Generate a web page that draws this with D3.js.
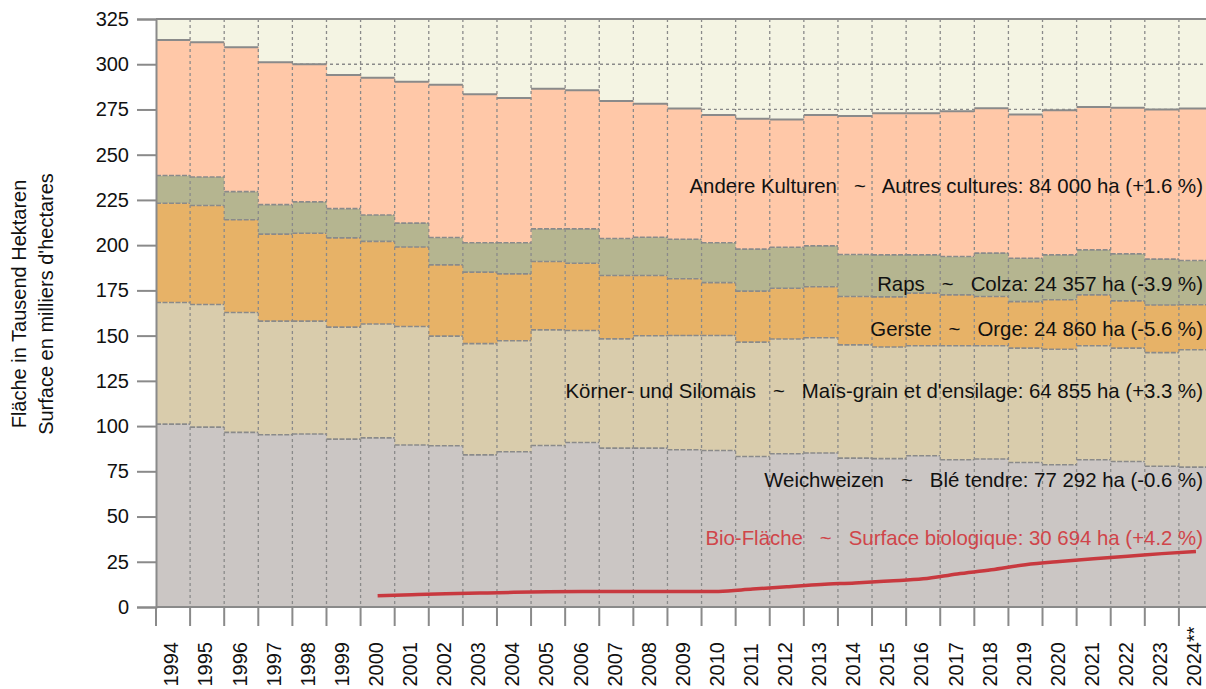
<!DOCTYPE html>
<html><head><meta charset="utf-8">
<script src="https://cdn.jsdelivr.net/npm/d3@7/dist/d3.min.js"></script>
<style>
body{margin:0;background:#fff}
text{font-family:"Liberation Sans",Arial,Helvetica,sans-serif;}
</style>
</head><body>
<svg id="c" width="1206" height="689"></svg>
<script>
const years = [1994,1995,1996,1997,1998,1999,2000,2001,2002,2003,2004,2005,2006,2007,2008,2009,2010,2011,2012,2013,2014,2015,2016,2017,2018,2019,2020,2021,2022,2023,2024];
const yearLabels = ["1994","1995","1996","1997","1998","1999","2000","2001","2002","2003","2004","2005","2006","2007","2008","2009","2010","2011","2012","2013","2014","2015","2016","2017","2018","2019","2020","2021","2022","2023","2024**"];
// thousand hectares
const weichweizen = [101.1,99.4,96.5,95.2,95.6,92.8,93.5,89.5,89.1,84.1,85.8,89.3,90.9,87.8,87.8,86.9,86.5,83.2,84.7,85.1,82.3,82.0,83.6,81.4,81.8,79.9,78.6,81.4,80.4,77.8,77.3];
const mais        = [67.2,67.8,66.3,62.8,62.4,61.9,62.9,65.5,60.6,61.5,61.4,63.9,61.9,60.4,62.1,63.2,63.6,63.2,63.4,63.7,62.6,61.7,60.8,63.0,62.6,63.2,63.9,63.0,62.7,62.8,64.9];
const gerste      = [54.9,54.7,51.2,48.1,48.6,49.3,45.7,44.0,39.4,39.5,36.9,37.8,37.2,35.0,33.3,31.3,29.2,28.2,28.1,28.2,26.7,27.7,29.1,28.1,27.2,25.7,27.3,28.1,26.1,26.3,24.9];
const raps        = [15.3,15.8,15.6,16.3,17.3,16.2,14.6,13.2,15.1,16.2,17.2,18.0,19.0,20.5,21.2,21.9,22.0,23.2,22.6,22.6,23.2,23.2,21.1,21.2,24.0,24.0,24.8,24.9,26.0,25.4,24.4];
const andere      = [74.9,74.5,79.8,78.7,76.1,73.9,75.8,78.1,84.4,82.1,80.1,77.4,76.6,76.0,73.7,72.2,70.7,72.0,70.7,72.4,76.6,78.3,78.3,80.3,80.1,79.4,80.0,79.0,80.7,82.7,84.0];
const bioYears = [2000,2001,2002,2003,2004,2005,2006,2007,2008,2009,2010,2011,2012,2013,2014,2015,2016,2017,2018,2019,2020,2021,2022,2023,2024];
const bio      = [6.2,6.8,7.3,7.7,8.1,8.4,8.5,8.5,8.5,8.5,8.6,9.9,11.2,12.5,13.3,14.4,15.6,18.3,20.6,23.4,25.2,26.7,28.0,29.5,30.7];
const yTicks = [0,25,50,75,100,125,150,175,200,225,250,275,300,325];
const seriesKeys = ["weichweizen","mais","gerste","raps","andere"];
const seriesColors = ["#cbc6c4","#d9ccac","#e7b267","#b5b590","#ffc8a8"];
const seriesLabels = [
  "Weichweizen   ~   Blé tendre: 77 292 ha (-0.6 %)",
  "Körner- und Silomais   ~   Maïs-grain et d'ensilage: 64 855 ha (+3.3 %)",
  "Gerste   ~   Orge: 24 860 ha (-5.6 %)",
  "Raps   ~   Colza: 24 357 ha (-3.9 %)",
  "Andere Kulturen   ~   Autres cultures: 84 000 ha (+1.6 %)"
];
const seriesLabelValues = [70.5, 119.5, 153.5, 178.8, 232.5];
const bioLabel = "Bio-Fläche   ~   Surface biologique: 30 694 ha (+4.2 %)";
const bioLabelValue = 38.3;
const yTitle = ["Fläche in Tausend Hektaren", "Surface en milliers d'hectares"];

const svg = d3.select("#c");
const L = 156, R = 1213, T = 19, B = 607;
const x = d3.scaleBand().domain(years).range([L, R]).paddingInner(0).paddingOuter(0);
const y = d3.scaleLinear().domain([0, 325]).range([B, T]);
const bw = x.bandwidth();
const GRID = "#8a8a8a";

// plot background
svg.append("rect").attr("x", L).attr("y", y(325)).attr("width", R - L).attr("height", y(0) - y(325)).attr("fill", "#f4f4e3");

// horizontal dashed grid (behind)
svg.append("g").selectAll("line").data(yTicks.filter(t => t > 0 && t < 325)).join("line")
  .attr("x1", L).attr("x2", R).attr("y1", d => y(d)).attr("y2", d => y(d))
  .attr("stroke", GRID).attr("stroke-width", 1.3).attr("stroke-dasharray", "3,3");

// stacked data
const table = years.map((yr, i) => ({year: yr, weichweizen: weichweizen[i], mais: mais[i], gerste: gerste[i], raps: raps[i], andere: andere[i]}));
const stacked = d3.stack().keys(seriesKeys)(table);

stacked.forEach((layer, k) => {
  svg.append("g").selectAll("rect").data(layer).join("rect")
    .attr("x", d => x(d.data.year)).attr("width", bw + 0.6)
    .attr("y", d => y(d[1])).attr("height", d => y(d[0]) - y(d[1]))
    .attr("fill", seriesColors[k]);
});
stacked.forEach((layer, k) => {
  const top = k === stacked.length - 1;
  svg.append("g").selectAll("line").data(layer).join("line")
    .attr("x1", d => x(d.data.year)).attr("x2", d => x(d.data.year) + bw)
    .attr("y1", d => y(d[1])).attr("y2", d => y(d[1]))
    .attr("stroke", GRID).attr("stroke-width", top ? 2 : 1.6)
    .attr("stroke-dasharray", top ? null : "5,1.5");
});

// vertical dashed grid (front)
svg.append("g").selectAll("line").data(years.slice(1)).join("line")
  .attr("x1", d => x(d)).attr("x2", d => x(d)).attr("y1", y(325)).attr("y2", y(0))
  .attr("stroke", GRID).attr("stroke-width", 1.3).attr("stroke-dasharray", "3,3");

// top border
svg.append("line").attr("x1", L).attr("x2", R).attr("y1", y(325)).attr("y2", y(325))
  .attr("stroke", GRID).attr("stroke-width", 2);

// y axis
const yAxis = svg.append("g").attr("transform", `translate(${L},0)`)
  .call(d3.axisLeft(y).tickValues(yTicks).tickSize(19).tickPadding(8).tickFormat(d3.format("d")));
yAxis.select(".domain").attr("stroke", GRID).attr("stroke-width", 2);
yAxis.selectAll(".tick line").attr("stroke", GRID).attr("stroke-width", 2);
yAxis.selectAll(".tick text").attr("font-size", 20).attr("fill", "#111").attr("font-family", "Liberation Sans, Arial, sans-serif");

// x axis
const xAxisG = svg.append("g").attr("transform", `translate(0,${B})`);
xAxisG.append("line").attr("x1", L).attr("x2", R).attr("y1", 0).attr("y2", 0).attr("stroke", GRID).attr("stroke-width", 2);
xAxisG.selectAll("line.tk").data(years.concat(["end"])).join("line").attr("class", "tk")
  .attr("x1", d => d === "end" ? R : x(d)).attr("x2", d => d === "end" ? R : x(d))
  .attr("y1", 0).attr("y2", 19).attr("stroke", GRID).attr("stroke-width", 2);
xAxisG.selectAll("text").data(years).join("text")
  .attr("transform", d => `translate(${x(d) + bw / 2 + 5.3},${79.5}) rotate(-90)`)
  .attr("text-anchor", "start").attr("font-size", 20).attr("fill", "#111")
  .text((d, i) => yearLabels[i]);

// bio line
const bioLine = d3.line().x(d => x(d[0]) + bw / 2).y(d => y(d[1])).curve(d3.curveMonotoneX);
svg.append("path").datum(bioYears.map((yr, i) => [yr, bio[i]]))
  .attr("d", bioLine).attr("fill", "none").attr("stroke", "#c8393f").attr("stroke-width", 3.5)
  .attr("stroke-linecap", "butt");

// series labels
const labX = 1203;
seriesLabels.forEach((t, k) => {
  svg.append("text").attr("x", labX).attr("y", y(seriesLabelValues[k])).attr("dy", "0.35em")
    .attr("text-anchor", "end").attr("font-size", 20.4).attr("fill", "#111")
    .style("white-space", "pre").attr("xml:space", "preserve").text(t);
});
svg.append("text").attr("x", labX).attr("y", y(bioLabelValue)).attr("dy", "0.35em")
  .attr("text-anchor", "end").attr("font-size", 20.4).attr("fill", "#d0454a")
  .style("white-space", "pre").attr("xml:space", "preserve").text(bioLabel);

// y title
const yt = svg.append("text").attr("transform", "translate(25.5,304) rotate(-90)")
  .attr("text-anchor", "middle").attr("font-size", 20).attr("fill", "#111");
yt.append("tspan").attr("x", 0).attr("y", 0).text(yTitle[0]);
yt.append("tspan").attr("x", 0).attr("y", 27.6).text(yTitle[1]);
</script>
</body></html>
